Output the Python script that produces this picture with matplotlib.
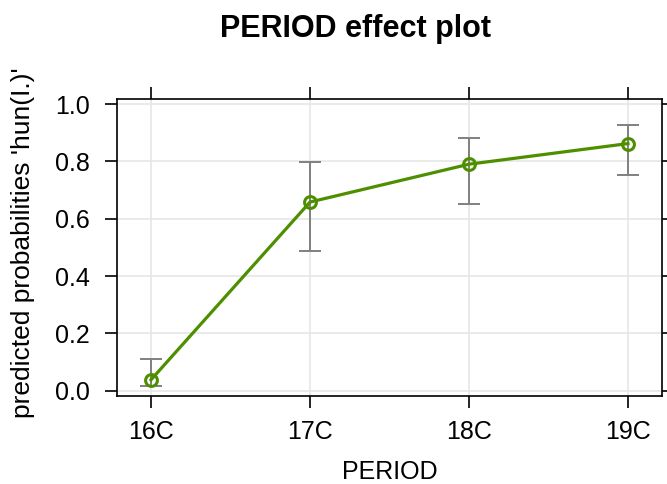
import matplotlib
matplotlib.use("Agg")
import matplotlib.pyplot as plt

plt.rcParams['font.family'] = ['Liberation Sans', 'DejaVu Sans']

# data
periods = ["16C", "17C", "18C", "19C"]
prob = [0.038, 0.658, 0.790, 0.862]
lower = [0.015, 0.488, 0.651, 0.753]
upper = [0.112, 0.796, 0.882, 0.928]
yticks = [0.0, 0.2, 0.4, 0.6, 0.8, 1.0]

green = "#4e8f00"

fig = plt.figure(figsize=(6.67, 4.84), dpi=100)
ax = fig.add_axes([117/667, 1 - 396/484, (662 - 117)/667, (396 - 99)/484])

x = list(range(1, len(periods) + 1))
yerr = [[p - l for p, l in zip(prob, lower)], [u - p for p, u in zip(prob, upper)]]

# grid
for xi in x:
    ax.axvline(xi, color="#e6e6e6", lw=1.2, zorder=0)
for yt in yticks:
    ax.axhline(yt, color="#e6e6e6", lw=1.2, zorder=0)

ax.errorbar(x, prob, yerr=yerr, fmt="none", ecolor="#808080", elinewidth=1.4,
            capsize=8, capthick=1.4, zorder=2)
ax.plot(x, prob, color=green, lw=2.3, marker="o", markersize=8.5,
        markerfacecolor="none", markeredgecolor=green, markeredgewidth=2.2, zorder=3)

ax.set_xlim(0.786, 4.214)
ax.set_ylim(-0.0186, 1.0175)
ax.set_xticks(x)
ax.set_xticklabels(periods)
ax.set_yticks(yticks)
ax.set_yticklabels(["0.0", "0.2", "0.4", "0.6", "0.8", "1.0"])

ax.tick_params(direction="out", length=8.5, width=1.2, labelsize=18,
               top=True, right=True, labeltop=False, labelright=False)
ax.tick_params(axis="x", pad=9)
ax.tick_params(axis="y", pad=11)
for s in ax.spines.values():
    s.set_linewidth(1.2)

ax.set_xlabel("PERIOD", fontsize=18, labelpad=11)
ax.set_ylabel("predicted probabilities 'hun(I.)'", fontsize=19)
ax.yaxis.set_label_coords(-0.150, 0.517)
fig.text(355/667, 1 - 37/484, "PERIOD effect plot", fontsize=22, fontweight="bold",
         ha="center", va="baseline")

fig.savefig("out.png", dpi=100)
